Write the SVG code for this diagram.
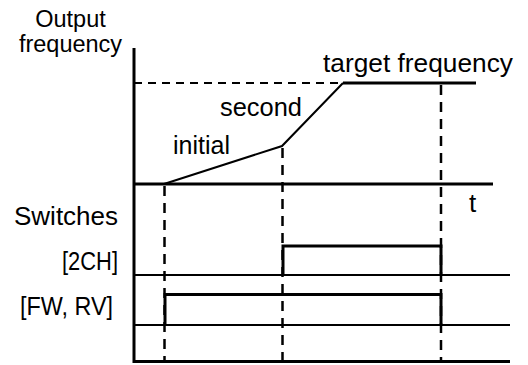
<svg xmlns="http://www.w3.org/2000/svg" width="528" height="365" viewBox="0 0 528 365">
<style>
text{font-family:"Liberation Sans",Arial,sans-serif;font-size:26px;fill:#000}
.sm{font-size:23.5px}
.br{font-size:25px}
.ax{stroke:#000;stroke-width:3;fill:none}
.thin{stroke:#000;stroke-width:2;fill:none}
.sig{stroke:#000;stroke-width:3;fill:none}
.dh{stroke:#000;stroke-width:2;stroke-dasharray:8 6;fill:none}
.dv{stroke:#000;stroke-width:2.5;stroke-dasharray:10 7;fill:none}
</style>
<rect width="528" height="365" fill="#fff"/>
<g id="labels">
<text class="sm" x="70.5" y="27" text-anchor="middle">Output</text>
<text class="sm" x="70.5" y="52" text-anchor="middle">frequency</text>
<text x="323" y="72" textLength="190" lengthAdjust="spacingAndGlyphs">target frequency</text>
<text x="220" y="116" textLength="82" lengthAdjust="spacingAndGlyphs">second</text>
<text x="173" y="154" textLength="57" lengthAdjust="spacingAndGlyphs">initial</text>
<text x="14" y="225" textLength="104" lengthAdjust="spacingAndGlyphs">Switches</text>
<text class="br" x="62" y="270" textLength="56" lengthAdjust="spacingAndGlyphs">[2CH]</text>
<text class="br" x="20" y="315" textLength="93" lengthAdjust="spacingAndGlyphs">[FW, RV]</text>
<text x="472.5" y="212" text-anchor="middle">t</text>
</g>
<g id="connectors">
<line class="dh" x1="134" y1="83" x2="343" y2="83"/>
<line class="dv" x1="164.5" y1="186" x2="164.5" y2="361"/>
<line class="dv" x1="282.5" y1="148" x2="282.5" y2="361"/>
<line class="dv" x1="441" y1="85" x2="441" y2="361"/>
<line class="thin" x1="134" y1="275" x2="510" y2="275"/>
<line class="thin" x1="134" y1="325" x2="510" y2="325"/>
<polyline class="thin" points="164,184 282,146 343,83"/>
<line class="sig" x1="343" y1="83" x2="476" y2="83"/>
<polyline class="sig" points="283,275 283,246 441,246 441,275"/>
<polyline class="sig" points="165,325 165,294.5 441,294.5 441,325"/>
<line class="ax" x1="134" y1="48" x2="134" y2="363"/>
<line class="ax" x1="134" y1="184" x2="493" y2="184"/>
<line class="ax" x1="134" y1="361.5" x2="510" y2="361.5"/>
</g>
</svg>
